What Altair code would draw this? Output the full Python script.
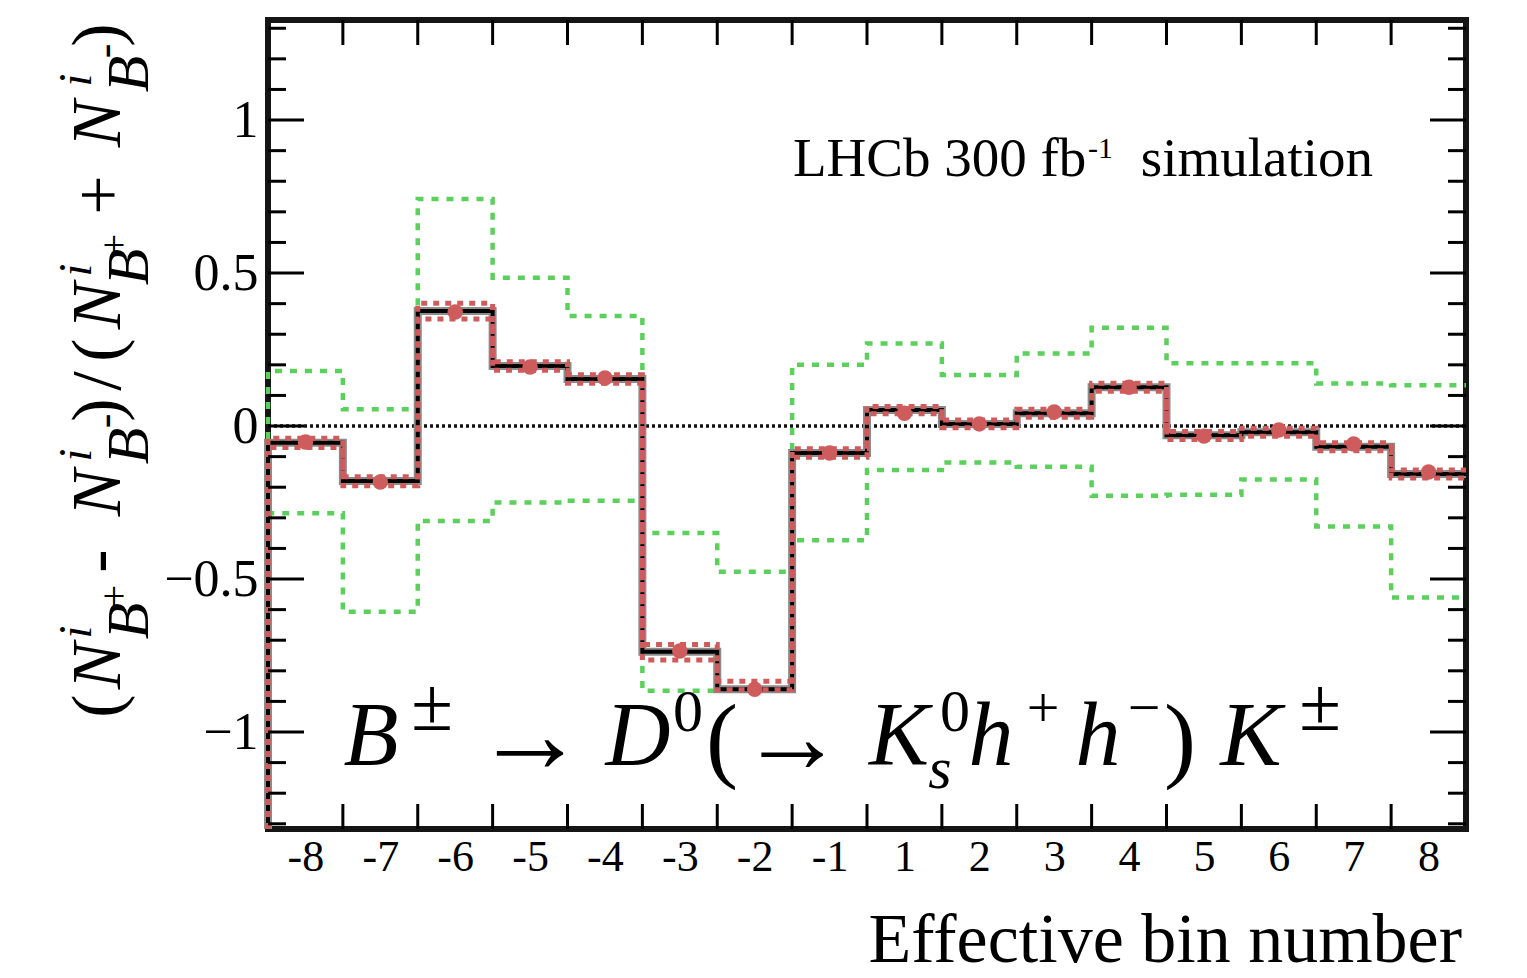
import altair as alt
import pandas as pd

# ---------------- data ----------------
bin_labels = ["-8", "-7", "-6", "-5", "-4", "-3", "-2", "-1",
              "1", "2", "3", "4", "5", "6", "7", "8"]
central = [-0.055, -0.180, 0.376, 0.196, 0.154, -0.738, -0.860, -0.088,
           0.052, 0.007, 0.042, 0.127, -0.030, -0.020, -0.068, -0.157]
points = [-0.052, -0.183, 0.373, 0.193, 0.157, -0.735, -0.860, -0.088,
          0.042, 0.007, 0.046, 0.127, -0.033, -0.013, -0.059, -0.150]
red_up = [-0.040, -0.166, 0.401, 0.210, 0.168, -0.714, -0.834, -0.074,
          0.064, 0.020, 0.055, 0.140, -0.018, -0.007, -0.055, -0.144]
red_lo = [-0.070, -0.195, 0.350, 0.182, 0.140, -0.765, -0.862, -0.102,
          0.040, -0.006, 0.029, 0.114, -0.044, -0.033, -0.081, -0.170]
green_up = [0.180, 0.055, 0.742, 0.485, 0.360, -0.350, -0.476, 0.200,
            0.270, 0.167, 0.237, 0.321, 0.205, 0.205, 0.139, 0.133]
green_lo = [-0.285, -0.607, -0.310, -0.250, -0.244, -0.865, -0.865, -0.373,
            -0.144, -0.119, -0.133, -0.228, -0.225, -0.175, -0.328, -0.560]
y_tick_labels = [-1, -0.5, 0, 0.5, 1]

# ---------------- layout ----------------
Y_MIN, Y_MAX = -1.317, 1.327
W, H = 1198, 809
PAD_L, PAD_T = 268, 20
SERIF = "Liberation Serif"
RED = "#cf5c5c"
GREEN = "#5cd05c"

xscale = alt.Scale(domain=[0, len(bin_labels)], nice=False, zero=False)
yscale = alt.Scale(domain=[Y_MIN, Y_MAX], nice=False, zero=False)

label_js = "[" + ",".join("'%s'" % l for l in bin_labels) + "][floor(datum.value)]"
xaxis = alt.Axis(values=[i + 0.5 for i in range(len(bin_labels))], labelExpr=label_js,
                 ticks=False, domain=False, grid=False, title=None,
                 labelFont=SERIF, labelFontSize=44, labelColor="black",
                 labelPadding=6, labelBaseline="top")
yaxis = alt.Axis(values=y_tick_labels, format="~g", ticks=False, domain=False, grid=False,
                 title=None, labelFont=SERIF, labelFontSize=52, labelColor="black",
                 labelPadding=10)


def X(field):
    return alt.X(field, type="quantitative", scale=xscale, axis=xaxis)


def Y(field):
    return alt.Y(field, type="quantitative", scale=yscale, axis=yaxis)


def step_df(vals):
    rows = [{"edge": 0.0, "v": Y_MIN, "idx": 0}]
    for i, v in enumerate(vals):
        rows.append({"edge": float(i), "v": v, "idx": i + 1})
    rows.append({"edge": float(len(vals)), "v": vals[-1], "idx": len(vals) + 1})
    return pd.DataFrame(rows)


def step_line(vals, **kw):
    return alt.Chart(step_df(vals)).mark_line(interpolate="step-after", **kw).encode(
        x=X("edge"), y=Y("v"), order=alt.Order("idx:Q"))


layers = []

# zero line
layers.append(alt.Chart(pd.DataFrame({"v": [0.0]})).mark_rule(
    color="#111111", strokeWidth=3.5, strokeDash=[3, 3]).encode(
    y=Y("v"), x=alt.value(0), x2=alt.value(W)))

# green bands
layers.append(step_line(green_up, color=GREEN, strokeWidth=4.5, strokeDash=[7, 8]))
layers.append(step_line(green_lo, color=GREEN, strokeWidth=4.5, strokeDash=[7, 8]))

# central histogram
layers.append(step_line(central, color="#8c8c8c", strokeWidth=8))
layers.append(step_line(central, color="black", strokeWidth=4))

# red bands
layers.append(step_line(red_up, color=RED, strokeWidth=5, strokeDash=[6, 6]))
layers.append(step_line(red_lo, color=RED, strokeWidth=5, strokeDash=[6, 6]))

# red points
pts = pd.DataFrame({"c": [i + 0.5 for i in range(len(points))], "v": points})
layers.append(alt.Chart(pts).mark_circle(color=RED, opacity=1, size=240).encode(
    x=X("c"), y=Y("v")))

# y ticks (inward, both sides)
minor = [round(k * 0.1, 1) for k in range(-13, 14) if k % 5 != 0]
major = [round(k * 0.1, 1) for k in range(-13, 14) if k % 5 == 0]
for vals, ln in ((minor, 18), (major, 36)):
    d = pd.DataFrame({"v": vals})
    layers.append(alt.Chart(d).mark_rule(color="black", strokeWidth=3).encode(
        y=Y("v"), x=alt.value(0), x2=alt.value(ln)))
    layers.append(alt.Chart(d).mark_rule(color="black", strokeWidth=3).encode(
        y=Y("v"), x=alt.value(W - ln), x2=alt.value(W)))

# x ticks at bin edges (inward, top and bottom)
edges = pd.DataFrame({"e": [float(i) for i in range(1, len(bin_labels))]})
layers.append(alt.Chart(edges).mark_rule(color="black", strokeWidth=3).encode(
    x=X("e"), y=alt.value(H - 25), y2=alt.value(H)))
layers.append(alt.Chart(edges).mark_rule(color="black", strokeWidth=3).encode(
    x=X("e"), y=alt.value(0), y2=alt.value(25)))


# ---------------- text annotations ----------------
def txt(text, xa, ya, size, italic=False, angle=0, align="center",
        baseline="alphabetic", font=SERIF):
    kw = dict(font=font, fontSize=size, color="black", align=align, baseline=baseline)
    if italic:
        kw["fontStyle"] = "italic"
    if angle:
        kw["angle"] = angle
    return alt.Chart(pd.DataFrame({"t": [text]})).mark_text(**kw).encode(
        text=alt.value(text), x=alt.value(xa - PAD_L), y=alt.value(ya - PAD_T))


# y-axis title pieces (rotated): text, baseline x, center y, size, italic
ytitle = [
    ("(", 120, 706, 70, False), ("N", 120, 666, 70, True), ("i", 91, 632, 46, True),
    ("B", 148, 621, 60, True), ("+", 127, 596, 40, False),
    ("-", 120, 561, 70, False),
    ("N", 120, 493, 70, True), ("i", 91, 455, 46, True), ("B", 148, 446, 60, True),
    ("-", 119, 421, 44, False),
    (")", 120, 410, 70, False), ("/", 120, 381, 70, False), ("(", 120, 350, 70, False),
    ("N", 120, 306, 70, True), ("i", 91, 270, 46, True), ("B", 148, 267, 60, True),
    ("+", 127, 245, 40, False),
    ("+", 122, 195, 70, False),
    ("N", 120, 124, 70, True), ("i", 91, 80, 46, True), ("B", 148, 74, 60, True),
    ("-", 119, 51, 44, False),
    (")", 120, 35, 70, False),
]
for t, xa, ya, s, it in ytitle:
    layers.append(txt(t, xa, ya, s, italic=it, angle=270))

# decay formula pieces: text, center x, baseline y, size, italic
decay = [
    ("B", 371, 765, 90, True), ("±", 432, 730, 76, False),
    ("→", 530, 772, 112, False),
    ("D", 638, 765, 90, True), ("0", 688, 731, 60, False),
    ("(", 722, 770, 96, False),
    ("→", 792, 772, 104, False),
    ("K", 899, 765, 90, True), ("0", 955, 731, 60, False),
    ("s", 940, 788, 60, True), ("h", 991, 765, 90, True),
    ("+", 1043, 727, 58, False),
    ("h", 1098, 765, 90, True), ("−", 1144, 727, 58, False),
    (")", 1180, 770, 96, False),
    ("K", 1251, 765, 92, True), ("±", 1320, 730, 76, False),
]
for t, xa, ya, s, it in decay:
    layers.append(txt(t, xa, ya, s, italic=it))

# LHCb label
layers.append(txt("LHCb 300 fb", 793, 176, 55, align="left"))
layers.append(txt("-1", 1088, 158, 30, align="left"))
layers.append(txt("simulation", 1373, 176, 55, align="right"))

# x-axis title
layers.append(txt("Effective bin number", 1462, 962, 70, align="right"))

chart = alt.layer(*layers).properties(
    width=W, height=H,
    autosize=alt.AutoSizeParams(type="none"),
    padding={"left": PAD_L, "top": PAD_T, "right": 1527 - PAD_L - W, "bottom": 978 - PAD_T - H},
    background="white",
).configure_view(stroke="#151515", strokeWidth=6)

chart.save("out.html", embed_options={"renderer": "svg", "actions": False})
